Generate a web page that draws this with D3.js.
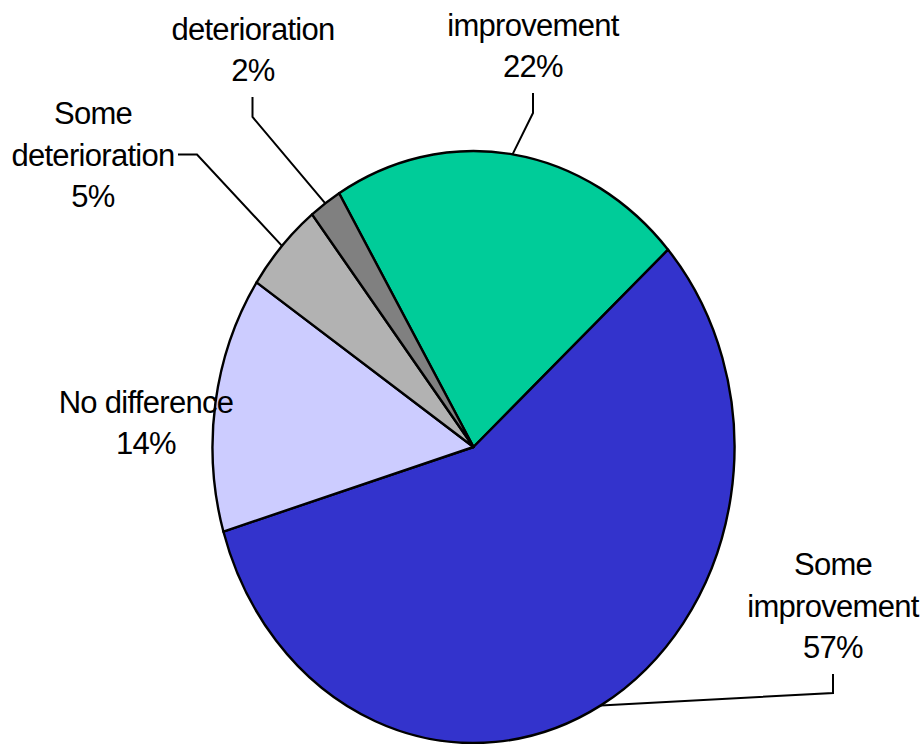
<!DOCTYPE html>
<html lang="en">
<head>
  <meta charset="UTF-8">
  <title>Pie</title>
  <style>
    body { margin: 0; background: #fff; }
    text { font-family: "Liberation Sans", Arial, sans-serif; font-size: 31px; letter-spacing: -0.7px; fill: #000; }
  </style>
</head>
<body>
  <script src="https://cdn.jsdelivr.net/npm/d3@7/dist/d3.min.js"></script>
  <script>
// data
const categories = ['Major improvement', 'Some improvement', 'No difference', 'Some deterioration', 'Major deterioration'];
const values = [22, 57, 14, 5, 2];
const colors = ['#00CC99', '#3333CC', '#CCCCFF', '#B2B2B2', '#808080'];
// the first word of the two "Major" labels falls above the top edge in the original
const labelLines = [['improvement'], ['Some', 'improvement'], ['No difference'], ['Some', 'deterioration'], ['deterioration']];

const width = 922, height = 744;
const cx = 473.5, cy = 447;   // centre of the pie
const rx = 261, ry = 296;     // the pie is stretched vertically
const lineH = 41.5;

// where the last line (the %) of each label sits, and the leader elbows
const labelPos = [
  { x: 533, y: 77, leader: [[533, 113], [533, 93]] },
  { x: 833, y: 658, leader: [[833, 693], [833, 674]] },
  { x: 146, y: 454, leader: null },
  { x: 93, y: 207, leader: [[197, 154.5], [178, 154.5]] },
  { x: 253, y: 81, leader: [[252.5, 117], [252.5, 97]] }
];

const svg = d3.select('body').append('svg')
  .attr('width', width)
  .attr('height', height);

const pie = d3.pie().sort(null).value(d => d)
  .startAngle(-31 * Math.PI / 180)
  .endAngle(329 * Math.PI / 180);
const arcs = pie(values);

const arc = d3.arc().innerRadius(0).outerRadius(rx);

const g = svg.append('g')
  .attr('transform', `translate(${cx}, ${cy}) scale(1, ${ry / rx})`);

g.selectAll('path')
  .data(arcs)
  .enter()
  .append('path')
  .attr('d', arc)
  .attr('fill', (d, i) => colors[i])
  .attr('stroke', '#000')
  .attr('stroke-width', 2.4)
  .attr('stroke-linejoin', 'round')
  .attr('vector-effect', 'non-scaling-stroke');

// point on the edge of the pie at the middle of a slice
function edgePoint(d) {
  const a = (d.startAngle + d.endAngle) / 2;
  return [cx + rx * Math.sin(a), cy - ry * Math.cos(a)];
}

// leader lines
const line = d3.line();
svg.selectAll('.leader')
  .data(arcs.filter((d, i) => labelPos[i].leader))
  .enter()
  .append('path')
  .attr('class', 'leader')
  .attr('d', d => line([edgePoint(d)].concat(labelPos[d.index].leader)))
  .attr('fill', 'none')
  .attr('stroke', '#000')
  .attr('stroke-width', 2);

// labels
arcs.forEach((d, i) => {
  const lines = labelLines[i].concat([values[i] + '%']);
  const p = labelPos[i];
  const t = svg.append('text').attr('text-anchor', 'middle');
  lines.forEach((s, k) => {
    t.append('tspan')
      .attr('x', p.x)
      .attr('y', p.y - (lines.length - 1 - k) * lineH)
      .text(s);
  });
});
  </script>
</body>
</html>
